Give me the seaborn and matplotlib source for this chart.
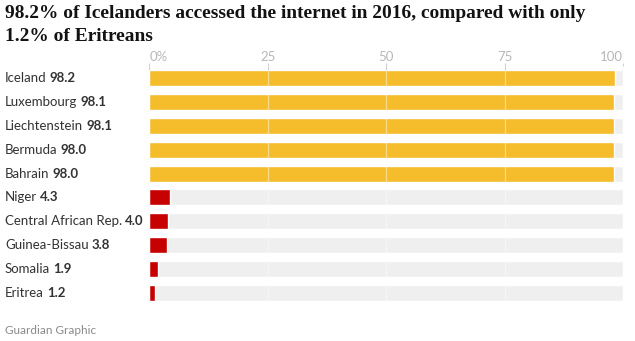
import matplotlib
matplotlib.use("Agg")
import matplotlib.pyplot as plt
import matplotlib.transforms as mtransforms
import seaborn as sns
import pandas as pd

# Internet users, % of population, 2016
countries = ["Iceland", "Luxembourg", "Liechtenstein", "Bermuda", "Bahrain",
             "Niger", "Central African Rep.", "Guinea-Bissau", "Somalia", "Eritrea"]
values = [98.2, 98.1, 98.1, 98.0, 98.0, 4.3, 4.0, 3.8, 1.9, 1.2]
groups = ["top"] * 5 + ["bottom"] * 5
tick_values = [0, 25, 50, 75, 100]
tick_labels = ["0%", "25", "50", "75", "100"]

title_lines = ["98.2% of Icelanders accessed the internet in 2016, compared with only",
               "1.2% of Eritreans"]
source = "Guardian Graphic"

YELLOW = "#f5bd2c"
RED = "#c70000"
TRACK = "#efefef"
TEXT = "#333333"
W, H = 635, 341

df = pd.DataFrame({"country": countries, "value": values, "group": groups})
df["full"] = 100

sns.set_theme(style="white")
plt.rcParams["font.family"] = ["Lato", "DejaVu Sans"]

fig = plt.figure(figsize=(W / 100, H / 100), dpi=100)
ax = fig.add_axes([149.3 / W, 1 - 305 / H, (623.3 - 149.3) / W, 239 / H])

# grey track behind every bar, then the value bars on top
sns.barplot(data=df, x="full", y="country", color=TRACK, width=0.67,
            saturation=1, ax=ax, zorder=1)
sns.barplot(data=df, x="value", y="country", hue="group",
            palette={"top": YELLOW, "bottom": RED}, width=0.67, saturation=1,
            dodge=False, legend=False, ax=ax, zorder=2)

# light vertical guides across the bars, grey stubs above the first row
for v in tick_values:
    ax.axvline(v, color="white", alpha=0.45, lw=0.9, zorder=3)
ax.vlines(tick_values, -0.5, -0.335, color="#d0d0d0", lw=0.8, zorder=3)

ax.set_xlim(0, 100)
ax.set_ylim(len(countries) - 0.5, -0.5)
ax.set_xlabel("")
ax.set_ylabel("")
for s in ax.spines.values():
    s.set_visible(False)

ax.xaxis.tick_top()
ax.set_xticks(tick_values)
ax.set_xticklabels(tick_labels)
ax.tick_params(axis="x", length=2, width=0.8, color="#d0d0d0", pad=0,
               labelsize=9.5, labelcolor="#b8b8b8", direction="out")
for lab, v in zip(ax.get_xticklabels(), tick_values):
    if v == 0:
        lab.set_ha("left")
    elif v == 100:
        lab.set_ha("right")
ax.set_yticks([])

# country name in regular weight, value in bold
trans = mtransforms.blended_transform_factory(fig.transFigure, ax.transData)
for i, (c, v) in enumerate(zip(countries, values)):
    t = ax.text(5 / W, i, c, transform=trans, ha="left", va="center",
                fontsize=9.5, color=TEXT)
    ax.annotate(f"{v:.1f}", xy=(1, 0.5), xycoords=t, xytext=(2.2, 0),
                textcoords="offset points", ha="left", va="center",
                fontsize=9.5, fontweight="bold", color=TEXT)

# headline: two lines, sized from the width of the first
title_kw = dict(ha="left", va="baseline", fontweight="bold", color="#121212",
                family=["Liberation Serif"])
t1 = fig.text(5 / W, 1 - 18 / H, title_lines[0], fontsize=14, **title_kw)
renderer = fig.canvas.get_renderer()
w = t1.get_window_extent(renderer).width
fs = 14 * 580 / w
t1.set_fontsize(fs)
fig.text(5 / W, 1 - 41 / H, title_lines[1], fontsize=fs, **title_kw)

fig.text(5 / W, 1 - 331 / H, source, ha="left", va="center",
         fontsize=8.5, color="#8a8a8a")

fig.savefig("out.png", dpi=100)
